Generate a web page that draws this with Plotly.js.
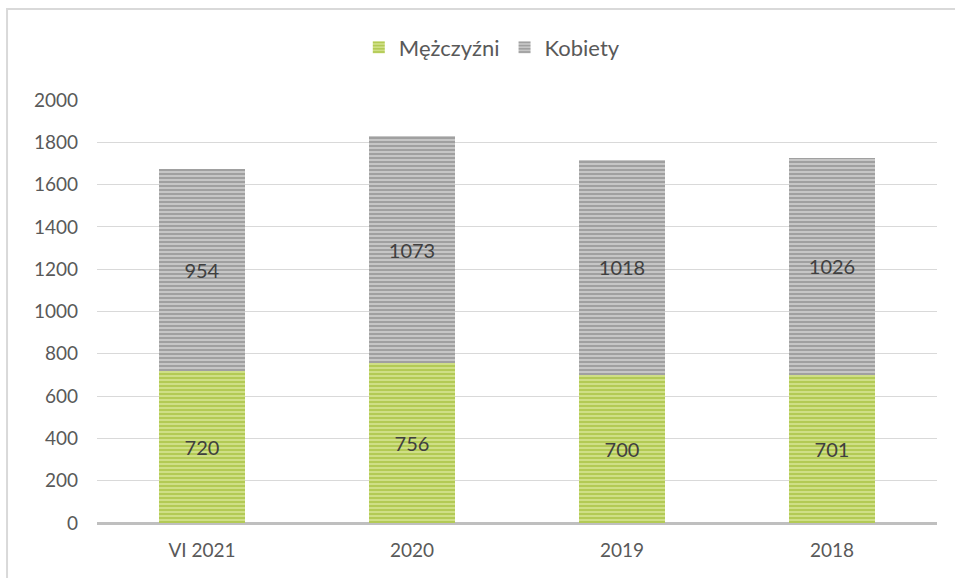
<!DOCTYPE html>
<html><head><meta charset="utf-8">
<script src="https://cdn.plot.ly/plotly-3.0.1.min.js"></script>
<style>html,body{margin:0;padding:0;background:#fff}#c{width:955px;height:578px}</style>
</head><body><div id="c"></div>
<script>
const categories = ["VI 2021", "2020", "2019", "2018"];
const men = [720, 756, 700, 701];
const women = [954, 1073, 1018, 1026];
const yTicks = [0, 200, 400, 600, 800, 1000, 1200, 1400, 1600, 1800, 2000];

const font = "Lato, 'Open Sans', sans-serif";
function barTrace(name, vals, bg, fg) {
  return {
    type: 'bar', name: name, x: categories, y: vals,
    text: vals.map(String), textposition: 'inside', insidetextanchor: 'middle',
    textangle: 0,
    textfont: {family: font, size: 20, color: '#404040'},
    marker: {color: bg, line: {width: 0},
      pattern: {shape: '-', fgcolor: fg, bgcolor: bg, size: 4, solidity: 0.5, fillmode: 'overlay'}},
    hoverinfo: 'none'
  };
}
const data = [
  barTrace('Mężczyźni', men, '#cfdf86', '#98b624'),
  barTrace('Kobiety', women, '#c6c6c6', '#7a7a7a')
];
const layout = {
  width: 955, height: 578,
  margin: {l: 97, r: 18, t: 100, b: 55, autoexpand: false},
  barmode: 'stack', bargap: 0.595,
  paper_bgcolor: '#fff', plot_bgcolor: '#fff',
  font: {family: font, color: '#595959', size: 19},
  showlegend: true,
  legend: {orientation: 'h', x: 0.47, xanchor: 'center', yref: 'container', y: 0.918, yanchor: 'middle',
    bgcolor: 'rgba(0,0,0,0)',
    font: {family: font, size: 22, color: '#595959'}, traceorder: 'normal', itemwidth: 30},
  xaxis: {type: 'category', tickfont: {family: font, size: 19, color: '#595959'},
    showgrid: false, ticks: '', showline: false, zeroline: false, automargin: false,
    ticklabelstandoff: 14},
  yaxis: {range: [0, 2000], tickvals: yTicks, ticktext: yTicks.map(String), automargin: false,
    tickfont: {family: font, size: 19, color: '#595959'},
    gridcolor: '#d9d9d9', gridwidth: 1, zeroline: true, zerolinecolor: '#bfbfbf', zerolinewidth: 3,
    ticks: '', showline: false, ticklabelstandoff: 18},
  shapes: [{type: 'path', xref: 'paper', yref: 'paper',
    path: 'M -0.1071,-0.14 L -0.1071,1.2151 L 1.03,1.2151',
    line: {color: '#d9d9d9', width: 2}}]
};
Plotly.newPlot('c', data, layout, {staticPlot: true});
</script>
</body></html>
